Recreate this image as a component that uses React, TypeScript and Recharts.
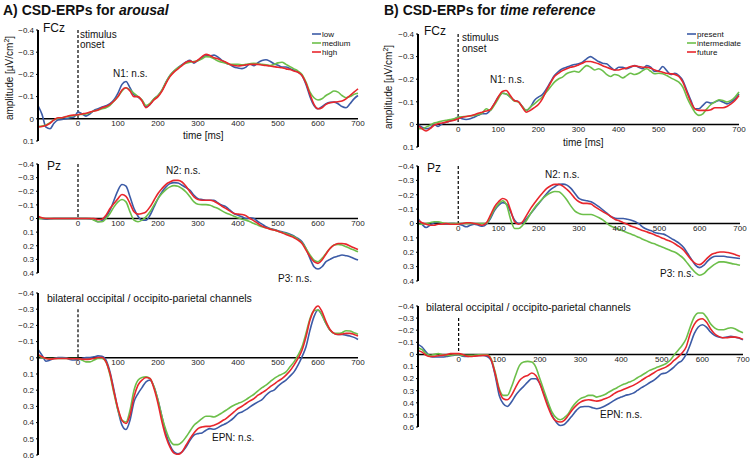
import React from 'react';
import { LineChart, Line, XAxis, YAxis, ReferenceLine, ReferenceDot } from 'recharts';

const FONT = '"Liberation Sans", Arial, Helvetica, sans-serif';
const BLUE = '#3c5ba6';
const GREEN = '#6cbf4a';
const RED = '#e8262c';

const times = [
  -100, -90, -80, -70, -60, -50, -40, -30, -20, -10,
  0, 10, 20, 30, 40, 50, 60, 70, 80, 90,
  100, 110, 120, 130, 140, 150, 160, 170, 180, 190,
  200, 210, 220, 230, 240, 250, 260, 270, 280, 290,
  300, 310, 320, 330, 340, 350, 360, 370, 380, 390,
  400, 410, 420, 430, 440, 450, 460, 470, 480, 490,
  500, 510, 520, 530, 540, 550, 560, 570, 580, 590,
  600, 610, 620, 630, 640, 650, 660, 670, 680, 690,
  700,
];
const xTickLabels = [0, 100, 200, 300, 400, 500, 600, 700];
const ticksFcz = [-0.4, -0.3, -0.2, -0.1, 0, 0.1];
const ticksPz = [-0.4, -0.3, -0.2, -0.1, 0, 0.1, 0.2, 0.3, 0.4];
const ticksBot = [-0.4, -0.3, -0.2, -0.1, 0, 0.1, 0.2, 0.3, 0.4, 0.5, 0.6];

const legendA = ['low', 'medium', 'high'];
const legendB = ['present', 'intermediate', 'future'];

// ---- A) arousal, FCz
const aFczLow = [-0.06,-0.02,0.038,0.045,0.02,0.005,0.003,0,-0.005,-0.008,
 -0.03,-0.022,-0.012,-0.022,-0.038,-0.045,-0.053,-0.059,-0.068,-0.086,
 -0.116,-0.155,-0.168,-0.14,-0.108,-0.098,-0.083,-0.053,-0.065,-0.089,
 -0.105,-0.128,-0.165,-0.195,-0.215,-0.23,-0.244,-0.256,-0.263,-0.251,
 -0.263,-0.275,-0.284,-0.283,-0.287,-0.278,-0.263,-0.251,-0.244,-0.233,
 -0.229,-0.226,-0.233,-0.248,-0.239,-0.253,-0.263,-0.266,-0.259,-0.248,
 -0.241,-0.233,-0.233,-0.226,-0.218,-0.21,-0.195,-0.155,-0.1,-0.06,
 -0.045,-0.055,-0.068,-0.074,-0.075,-0.068,-0.055,-0.05,-0.068,-0.09,
 -0.105];
const aFczMedium = [0.035,0.033,0.028,0.018,0.005,-0.003,-0.005,-0.008,-0.012,-0.015,
 -0.018,-0.02,-0.022,-0.028,-0.035,-0.04,-0.045,-0.05,-0.06,-0.08,
 -0.1,-0.125,-0.14,-0.13,-0.115,-0.1,-0.085,-0.06,-0.07,-0.09,
 -0.105,-0.13,-0.165,-0.195,-0.215,-0.23,-0.242,-0.25,-0.255,-0.258,
 -0.262,-0.27,-0.28,-0.278,-0.27,-0.26,-0.255,-0.25,-0.245,-0.245,
 -0.245,-0.243,-0.245,-0.248,-0.25,-0.248,-0.245,-0.243,-0.24,-0.245,
 -0.252,-0.255,-0.245,-0.235,-0.225,-0.215,-0.2,-0.165,-0.12,-0.095,
 -0.085,-0.09,-0.105,-0.115,-0.125,-0.12,-0.105,-0.095,-0.1,-0.11,
 -0.115];
const aFczHigh = [0.037,0.035,0.03,0.02,0.005,-0.005,-0.005,-0.01,-0.015,-0.017,
 -0.018,-0.022,-0.025,-0.03,-0.035,-0.04,-0.05,-0.055,-0.065,-0.08,
 -0.1,-0.13,-0.14,-0.125,-0.1,-0.1,-0.08,-0.05,-0.065,-0.085,
 -0.1,-0.125,-0.16,-0.19,-0.21,-0.225,-0.24,-0.255,-0.26,-0.255,
 -0.265,-0.28,-0.29,-0.285,-0.275,-0.27,-0.262,-0.255,-0.245,-0.24,
 -0.238,-0.24,-0.243,-0.245,-0.245,-0.245,-0.242,-0.24,-0.238,-0.235,
 -0.232,-0.23,-0.225,-0.222,-0.215,-0.21,-0.195,-0.16,-0.11,-0.065,
 -0.045,-0.05,-0.065,-0.072,-0.075,-0.077,-0.08,-0.09,-0.105,-0.12,
 -0.135];

// ---- B) time reference, FCz
const bFczPresent = [0,0.012,0.019,0.016,0,0.009,-0.003,-0.009,-0.015,-0.021,
 -0.032,-0.025,-0.022,-0.025,-0.032,-0.04,-0.047,-0.047,-0.062,-0.091,
 -0.121,-0.138,-0.135,-0.121,-0.106,-0.101,-0.079,-0.062,-0.076,-0.106,
 -0.121,-0.132,-0.157,-0.187,-0.216,-0.234,-0.246,-0.253,-0.26,-0.265,
 -0.268,-0.275,-0.29,-0.3,-0.29,-0.278,-0.271,-0.268,-0.253,-0.241,
 -0.253,-0.253,-0.246,-0.253,-0.26,-0.253,-0.246,-0.26,-0.253,-0.234,
 -0.238,-0.256,-0.238,-0.221,-0.226,-0.216,-0.194,-0.15,-0.106,-0.069,
 -0.069,-0.084,-0.099,-0.094,-0.099,-0.106,-0.099,-0.091,-0.099,-0.113,
 -0.135];
const bFczIntermediate = [0.019,0.019,0.012,0.004,-0.006,-0.01,-0.015,-0.018,-0.021,-0.025,
 -0.032,-0.034,-0.035,-0.037,-0.04,-0.044,-0.05,-0.069,-0.062,-0.084,
 -0.113,-0.138,-0.135,-0.121,-0.103,-0.099,-0.079,-0.062,-0.076,-0.091,
 -0.106,-0.121,-0.143,-0.165,-0.187,-0.201,-0.209,-0.224,-0.231,-0.235,
 -0.231,-0.246,-0.26,-0.253,-0.241,-0.246,-0.238,-0.221,-0.212,-0.221,
 -0.216,-0.206,-0.216,-0.226,-0.221,-0.226,-0.238,-0.246,-0.235,-0.224,
 -0.226,-0.224,-0.216,-0.206,-0.197,-0.187,-0.165,-0.121,-0.084,-0.054,
 -0.04,-0.047,-0.069,-0.088,-0.099,-0.109,-0.106,-0.099,-0.106,-0.121,
 -0.143];
const bFczFuture = [0.004,0.019,0.029,0.019,0.004,-0.003,-0.006,-0.01,-0.015,-0.018,
 -0.025,-0.032,-0.035,-0.038,-0.043,-0.049,-0.054,-0.059,-0.065,-0.091,
 -0.121,-0.146,-0.15,-0.128,-0.106,-0.101,-0.076,-0.054,-0.062,-0.074,
 -0.088,-0.113,-0.15,-0.182,-0.212,-0.226,-0.238,-0.246,-0.253,-0.256,
 -0.263,-0.271,-0.278,-0.278,-0.274,-0.268,-0.26,-0.253,-0.246,-0.241,
 -0.241,-0.246,-0.249,-0.256,-0.259,-0.256,-0.253,-0.253,-0.249,-0.241,
 -0.235,-0.231,-0.226,-0.224,-0.221,-0.212,-0.187,-0.143,-0.099,-0.069,
 -0.062,-0.062,-0.062,-0.065,-0.074,-0.074,-0.074,-0.079,-0.091,-0.106,
 -0.128];

// ---- A) arousal, Pz
const aPzLow = [-0.012,0,0.005,0.002,0,0,0,0,0,0,
 0,0,0,0.002,0.007,0.024,0.017,-0.012,-0.061,-0.134,
 -0.207,-0.249,-0.237,-0.159,-0.073,-0.017,0.012,0.012,-0.024,-0.085,
 -0.146,-0.195,-0.232,-0.256,-0.263,-0.261,-0.244,-0.227,-0.207,-0.171,
 -0.146,-0.139,-0.134,-0.134,-0.134,-0.115,-0.098,-0.085,-0.061,-0.037,
 -0.024,-0.012,0,-0.005,0,0.024,0.041,0.061,0.073,0.08,
 0.09,0.098,0.105,0.115,0.129,0.146,0.171,0.22,0.293,0.354,
 0.371,0.354,0.317,0.3,0.285,0.276,0.268,0.273,0.28,0.293,
 0.305];
const aPzMedium = [0,0,0,0,0,0,0,0,0,0,
 0,0,0,0,0.012,0.024,0.024,0,-0.037,-0.085,
 -0.122,-0.139,-0.122,-0.049,0.012,0.024,0.012,-0.012,-0.049,-0.098,
 -0.146,-0.183,-0.212,-0.232,-0.241,-0.237,-0.22,-0.195,-0.159,-0.122,
 -0.105,-0.102,-0.102,-0.098,-0.085,-0.073,-0.056,-0.041,-0.029,-0.017,
 -0.005,0.005,0.012,0.024,0.037,0.049,0.061,0.068,0.076,0.085,
 0.093,0.102,0.11,0.122,0.134,0.154,0.178,0.22,0.268,0.305,
 0.317,0.293,0.256,0.22,0.195,0.19,0.195,0.207,0.22,0.232,
 0.244];
const aPzHigh = [-0.017,-0.005,0,0,0,0,0,0,0,0,
 0,0,0,0,0,0.007,0.005,-0.024,-0.073,-0.11,
 -0.146,-0.176,-0.163,-0.11,-0.049,-0.032,-0.037,-0.049,-0.085,-0.134,
 -0.183,-0.22,-0.251,-0.268,-0.28,-0.28,-0.268,-0.237,-0.195,-0.159,
 -0.139,-0.134,-0.134,-0.134,-0.127,-0.11,-0.09,-0.073,-0.054,-0.037,
 -0.032,-0.029,-0.02,0,0.017,0.037,0.056,0.068,0.078,0.085,
 0.093,0.105,0.117,0.129,0.141,0.159,0.183,0.232,0.28,0.317,
 0.329,0.305,0.261,0.22,0.195,0.183,0.183,0.188,0.202,0.215,
 0.227];

// ---- B) time reference, Pz
const bPzPresent = [-0.035,0.005,0.028,0.012,-0.005,-0.009,0,0.005,0,0,
 0.005,0.012,0.023,0.012,0.005,0.012,0.019,0.005,-0.035,-0.09,
 -0.125,-0.145,-0.135,-0.081,-0.023,0,-0.005,-0.035,-0.07,-0.105,
 -0.14,-0.174,-0.209,-0.237,-0.256,-0.272,-0.274,-0.267,-0.244,-0.209,
 -0.174,-0.163,-0.158,-0.151,-0.135,-0.116,-0.093,-0.07,-0.047,-0.037,
 -0.035,-0.035,-0.03,-0.023,-0.012,0.005,0.028,0.042,0.051,0.065,
 0.07,0.074,0.088,0.105,0.121,0.14,0.167,0.209,0.251,0.291,
 0.307,0.291,0.26,0.237,0.228,0.228,0.228,0.233,0.237,0.24,
 0.244];
const bPzIntermediate = [0.005,0.005,0,-0.005,-0.012,-0.012,-0.005,0,0,0,
 0,0,0,0,0,0,0,0,-0.047,-0.1,
 -0.135,-0.158,-0.13,-0.03,0.035,0.035,0.012,-0.023,-0.07,-0.112,
 -0.144,-0.174,-0.198,-0.214,-0.223,-0.221,-0.198,-0.163,-0.121,-0.086,
 -0.07,-0.063,-0.063,-0.063,-0.053,-0.04,-0.023,0,0.019,0.03,
 0.042,0.053,0.065,0.074,0.086,0.098,0.112,0.123,0.135,0.144,
 0.156,0.167,0.179,0.191,0.202,0.221,0.244,0.279,0.314,0.344,
 0.36,0.349,0.321,0.298,0.279,0.267,0.267,0.272,0.279,0.284,
 0.291];
const bPzFuture = [-0.023,-0.005,0.005,0.012,0.012,0.005,0.005,0,0.005,0.005,
 0.005,0,-0.005,-0.005,0,0.005,0.012,-0.005,-0.058,-0.116,
 -0.151,-0.174,-0.163,-0.093,-0.012,0.005,-0.012,-0.058,-0.105,-0.144,
 -0.181,-0.214,-0.244,-0.263,-0.272,-0.272,-0.26,-0.237,-0.209,-0.174,
 -0.151,-0.14,-0.14,-0.135,-0.116,-0.098,-0.081,-0.065,-0.047,-0.028,
 -0.019,-0.005,0.005,0.019,0.028,0.04,0.051,0.06,0.07,0.081,
 0.093,0.105,0.116,0.128,0.144,0.163,0.186,0.221,0.256,0.279,
 0.286,0.267,0.237,0.214,0.205,0.198,0.198,0.202,0.209,0.219,
 0.228];

// ---- A) arousal, occipital
const aOccLow = [-0.052,-0.016,0.021,0.014,0.004,-0.002,-0.002,0,0.01,0.014,
 0.01,0.004,-0.002,-0.002,-0.006,-0.012,-0.01,0.014,0.087,0.2,
 0.324,0.416,0.443,0.386,0.272,0.221,0.184,0.148,0.138,0.179,
 0.262,0.365,0.468,0.54,0.581,0.592,0.581,0.551,0.509,0.478,
 0.468,0.464,0.447,0.437,0.441,0.431,0.416,0.406,0.39,0.369,
 0.344,0.334,0.32,0.303,0.287,0.272,0.258,0.231,0.21,0.2,
 0.175,0.155,0.138,0.113,0.087,0.045,-0.006,-0.068,-0.171,-0.254,
 -0.295,-0.264,-0.212,-0.171,-0.151,-0.144,-0.144,-0.14,-0.134,-0.126,
 -0.113];
const aOccMedium = [-0.016,-0.002,0.004,0.004,0.004,0.004,0.004,0.004,0.004,0.004,
 0.004,0.014,0.025,0.025,0.014,0.004,0.004,0.025,0.107,0.221,
 0.324,0.386,0.396,0.324,0.2,0.138,0.122,0.118,0.128,0.179,
 0.262,0.365,0.447,0.509,0.536,0.536,0.52,0.489,0.452,0.416,
 0.396,0.375,0.361,0.361,0.365,0.355,0.34,0.324,0.307,0.293,
 0.282,0.272,0.258,0.241,0.225,0.204,0.184,0.169,0.148,0.128,
 0.113,0.101,0.087,0.056,0.025,-0.016,-0.068,-0.151,-0.243,-0.291,
 -0.295,-0.264,-0.212,-0.171,-0.151,-0.151,-0.155,-0.167,-0.165,-0.155,
 -0.146];
const aOccHigh = [-0.021,-0.006,0.004,0.008,0.006,0.004,0.004,0.004,0.006,0.006,
 0.006,0.008,0.01,0.008,0.004,-0.002,-0.002,0.025,0.097,0.21,
 0.313,0.386,0.406,0.355,0.241,0.169,0.138,0.122,0.128,0.19,
 0.282,0.396,0.489,0.551,0.588,0.596,0.581,0.54,0.499,0.464,
 0.437,0.427,0.423,0.423,0.416,0.406,0.39,0.375,0.355,0.334,
 0.313,0.299,0.282,0.266,0.252,0.231,0.216,0.2,0.179,0.163,
 0.144,0.128,0.107,0.08,0.045,0.004,-0.047,-0.13,-0.233,-0.295,
 -0.32,-0.285,-0.223,-0.175,-0.151,-0.144,-0.146,-0.151,-0.151,-0.144,
 -0.134];

// ---- B) time reference, occipital
const bOccPresent = [-0.083,-0.061,-0.019,0.017,0.022,0.022,0.022,0.017,0.011,0.006,
 0.003,0.014,0.017,0.014,0.011,0.008,0.008,0.017,0.05,0.174,
 0.339,0.408,0.43,0.394,0.339,0.298,0.264,0.229,0.201,0.201,
 0.242,0.325,0.408,0.504,0.559,0.587,0.579,0.545,0.504,0.463,
 0.435,0.43,0.43,0.441,0.449,0.441,0.427,0.408,0.386,0.366,
 0.353,0.339,0.331,0.32,0.298,0.275,0.256,0.234,0.215,0.187,
 0.16,0.154,0.132,0.105,0.072,0.05,0,-0.08,-0.171,-0.226,
 -0.245,-0.226,-0.185,-0.157,-0.143,-0.138,-0.143,-0.149,-0.143,-0.135,
 -0.121];
const bOccIntermediate = [-0.055,-0.039,-0.006,0.008,0,-0.006,0.003,0.008,0.008,0.003,
 0,0.008,0.008,0.008,0.006,0.003,0.003,0.003,0.036,0.146,
 0.284,0.339,0.339,0.27,0.174,0.091,0.063,0.058,0.063,0.105,
 0.201,0.298,0.394,0.477,0.523,0.54,0.523,0.49,0.435,0.394,
 0.366,0.353,0.339,0.339,0.353,0.344,0.331,0.311,0.292,0.275,
 0.256,0.242,0.229,0.215,0.193,0.174,0.154,0.132,0.118,0.105,
 0.091,0.077,0.05,0.008,-0.033,-0.074,-0.129,-0.226,-0.309,-0.342,
 -0.342,-0.309,-0.253,-0.22,-0.204,-0.204,-0.212,-0.22,-0.212,-0.193,
 -0.179];
const bOccFuture = [-0.033,-0.019,0.008,0.017,0.017,0.011,0.008,0.003,-0.006,-0.006,
 -0.006,0,0.014,0.017,0.014,0.011,0.008,0.008,0.044,0.16,
 0.298,0.366,0.375,0.339,0.275,0.215,0.187,0.174,0.154,0.174,
 0.242,0.339,0.435,0.512,0.551,0.559,0.545,0.504,0.457,0.421,
 0.394,0.38,0.375,0.38,0.386,0.38,0.366,0.353,0.331,0.311,
 0.298,0.284,0.27,0.256,0.237,0.215,0.193,0.174,0.154,0.132,
 0.118,0.105,0.083,0.05,0.022,-0.011,-0.061,-0.171,-0.248,-0.287,
 -0.295,-0.267,-0.212,-0.171,-0.149,-0.138,-0.138,-0.143,-0.143,-0.138,
 -0.124];

const YW = 40;
const MT = 6;
const MR = 14;
const MB = 16;

const fmt = (v: number) => (v < 0 ? '\u2212' + String(Math.abs(v)) : String(v));

type PanelProps = {
  plotLeft: number;
  plotTop: number;
  plotW: number;
  plotH: number;
  domain: [number, number];
  ticks: number[];
  s1: number[];
  s2: number[];
  s3: number[];
  dashFrom: number;
};

function Panel(p: PanelProps) {
  const data = times.map((t, i) => ({ t, a: p.s1[i], b: p.s2[i], c: p.s3[i] }));
  return (
    <div style={{ position: 'absolute', left: p.plotLeft - YW, top: p.plotTop - MT }}>
      <LineChart
        width={YW + p.plotW + MR}
        height={MT + p.plotH + MB}
        data={data}
        margin={{ top: MT, right: MR, bottom: MB, left: 0 }}
      >
        <XAxis dataKey="t" type="number" domain={[-100, 700]} hide />
        <YAxis
          type="number"
          domain={p.domain}
          ticks={p.ticks}
          reversed
          allowDataOverflow
          interval={0}
          width={YW}
          axisLine={{ stroke: '#000', strokeWidth: 2 }}
          tickLine={{ stroke: '#000', strokeWidth: 1 }}
          tickSize={2}
          tick={{ fontSize: 8, fill: '#222', fontFamily: FONT }}
          tickFormatter={fmt}
        />
        <ReferenceLine y={0} stroke="#000" strokeWidth={1.5} />
        <ReferenceLine
          segment={[{ x: 0, y: p.dashFrom }, { x: 0, y: 0 }]}
          stroke="#000"
          strokeWidth={1.2}
          strokeDasharray="3 2"
        />
        {xTickLabels.map((t) => (
          <ReferenceDot
            key={t}
            x={t}
            y={0}
            r={0}
            fill="none"
            stroke="none"
            label={{ value: String(t), position: 'bottom', offset: 2, fontSize: 8, fill: '#222', fontFamily: FONT }}
          />
        ))}
        <Line dataKey="a" type="monotone" stroke={BLUE} strokeWidth={1.6} dot={false} isAnimationActive={false} />
        <Line dataKey="b" type="monotone" stroke={GREEN} strokeWidth={1.6} dot={false} isAnimationActive={false} />
        <Line dataKey="c" type="monotone" stroke={RED} strokeWidth={1.6} dot={false} isAnimationActive={false} />
      </LineChart>
    </div>
  );
}

function AmpLabel({ cx, cy }: { cx: number; cy: number }) {
  return (
    <text
      transform={`translate(${cx},${cy}) rotate(-90)`}
      textAnchor="middle"
      fontSize={10}
      fill="#111"
      fontFamily={FONT}
    >
      amplitude [µV/cm<tspan fontSize={7} dy={-4}>2</tspan>
      <tspan dy={4}>]</tspan>
    </text>
  );
}

function Legend({ x, ys, labels, fs }: { x: number; ys: number[]; labels: string[]; fs: number }) {
  const cols = [BLUE, GREEN, RED];
  return (
    <g>
      {labels.map((l, i) => (
        <g key={l}>
          <line x1={x} x2={x + 9} y1={ys[i]} y2={ys[i]} stroke={cols[i]} strokeWidth={1.6} />
          <text x={x + 10} y={ys[i] + 3} fontSize={fs} fill="#111" fontFamily={FONT}>
            {l}
          </text>
        </g>
      ))}
    </g>
  );
}

export default function App() {
  const t = { fontFamily: FONT, fill: '#111' } as const;
  return (
    <div style={{ position: 'absolute', left: 0, top: 0, width: 754, height: 461, background: '#fff', overflow: 'hidden' }}>
      <Panel plotLeft={38} plotTop={30} plotW={320} plotH={111} domain={[-0.4, 0.1]} ticks={ticksFcz}
        s1={aFczLow} s2={aFczMedium} s3={aFczHigh} dashFrom={-0.4} />
      <Panel plotLeft={38} plotTop={164} plotW={320} plotH={109} domain={[-0.4, 0.4]} ticks={ticksPz}
        s1={aPzLow} s2={aPzMedium} s3={aPzHigh} dashFrom={-0.4} />
      <Panel plotLeft={38} plotTop={293} plotW={320} plotH={162} domain={[-0.4, 0.6]} ticks={ticksBot}
        s1={aOccLow} s2={aOccMedium} s3={aOccHigh} dashFrom={-0.3} />
      <Panel plotLeft={418} plotTop={34} plotW={321} plotH={113} domain={[-0.4, 0.1]} ticks={ticksFcz}
        s1={bFczPresent} s2={bFczIntermediate} s3={bFczFuture} dashFrom={-0.4} />
      <Panel plotLeft={418} plotTop={166} plotW={322} plotH={115} domain={[-0.4, 0.4]} ticks={ticksPz}
        s1={bPzPresent} s2={bPzIntermediate} s3={bPzFuture} dashFrom={-0.4} />
      <Panel plotLeft={418} plotTop={306} plotW={325} plotH={121} domain={[-0.4, 0.6]} ticks={ticksBot}
        s1={bOccPresent} s2={bOccIntermediate} s3={bOccFuture} dashFrom={-0.3} />

      <svg width={754} height={461} style={{ position: 'absolute', left: 0, top: 0, pointerEvents: 'none' }}>
        <text x={3} y={15} fontSize={14} fontWeight="bold" {...t}>
          A) CSD-ERPs for <tspan fontStyle="italic">arousal</tspan>
        </text>
        <text x={384} y={15} fontSize={14} fontWeight="bold" {...t}>
          B) CSD-ERPs for <tspan fontStyle="italic">time reference</tspan>
        </text>

        {/* A FCz */}
        <text x={43} y={32} fontSize={12} {...t}>FCz</text>
        <text x={80} y={38} fontSize={10} {...t}>stimulus</text>
        <text x={80} y={48} fontSize={10} {...t}>onset</text>
        <text x={113} y={77} fontSize={10} {...t}>N1: n.s.</text>
        <text x={183} y={139} fontSize={10} {...t}>time [ms]</text>
        <AmpLabel cx={13} cy={78} />
        <Legend x={312} ys={[34, 43, 52]} labels={legendA} fs={8} />

        {/* B FCz */}
        <text x={424} y={35} fontSize={12} {...t}>FCz</text>
        <text x={462} y={41} fontSize={10} {...t}>stimulus</text>
        <text x={462} y={52} fontSize={10} {...t}>onset</text>
        <text x={490} y={83} fontSize={10} {...t}>N1: n.s.</text>
        <text x={563} y={146} fontSize={10} {...t}>time [ms]</text>
        <AmpLabel cx={392} cy={87} />
        <Legend x={687} ys={[34, 43, 52]} labels={legendB} fs={8} />

        {/* A Pz */}
        <text x={47} y={170} fontSize={12} {...t}>Pz</text>
        <text x={166} y={174} fontSize={10} {...t}>N2: n.s.</text>
        <text x={278} y={282} fontSize={10} {...t}>P3: n.s.</text>

        {/* B Pz */}
        <text x={427} y={172} fontSize={12} {...t}>Pz</text>
        <text x={545} y={178} fontSize={10} {...t}>N2: n.s.</text>
        <text x={660} y={277} fontSize={10} {...t}>P3: n.s.</text>

        {/* occipital */}
        <text x={47} y={302} fontSize={10.5} {...t}>bilateral occipital / occipito-parietal channels</text>
        <text x={212} y={441} fontSize={10} {...t}>EPN: n.s.</text>
        <text x={426} y={311} fontSize={10.5} {...t}>bilateral occipital / occipito-parietal channels</text>
        <text x={600} y={418} fontSize={10} {...t}>EPN: n.s.</text>
      </svg>
    </div>
  );
}
